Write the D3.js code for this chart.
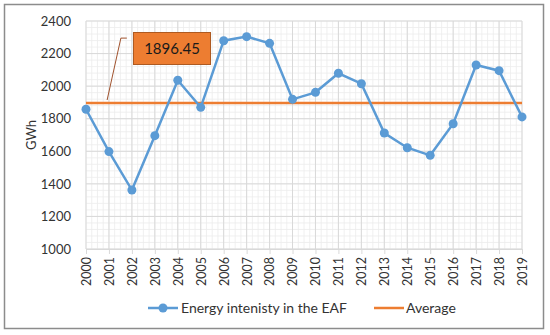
<!DOCTYPE html>
<html>
<head>
<meta charset="utf-8">
<script src="https://cdn.jsdelivr.net/npm/d3@7"></script>
<style>
  body { margin: 0; background: #fff; }
  text { font-family: Lato, "Open Sans", sans-serif; fill: #333; }
</style>
</head>
<body>
<div id="chart"></div>
<script>
const years = d3.range(2000, 2020);
const energy = [1858, 1598, 1362, 1696, 2036, 1870, 2279, 2304, 2263, 1919,
                1962, 2079, 2015, 1712, 1622, 1575, 1769, 2130, 2095, 1811];
const average = 1896.45;
const yTicks = [1000, 1200, 1400, 1600, 1800, 2000, 2200, 2400];
const seriesNames = ['Energy intenisty in the EAF', 'Average'];

const W = 550, H = 335;
const margin = {top: 21, right: 28, bottom: 86, left: 86};

const svg = d3.select('#chart').append('svg')
  .attr('width', W)
  .attr('height', H);

// outer frame
svg.append('rect')
  .attr('x', 4.5).attr('y', 4.5)
  .attr('width', 539).attr('height', 324)
  .attr('fill', '#fff')
  .attr('stroke', '#8c8c8c')
  .attr('stroke-width', 1.5);

const x = d3.scaleLinear()
  .domain([2000, 2019])
  .range([margin.left, W - margin.right]);

const y = d3.scaleLinear()
  .domain([1000, 2400])
  .range([H - margin.bottom, margin.top]);

const g = svg.append('g');

// minor grid
g.selectAll('.minor-x')
  .data(d3.range(2000, 2019.01, 0.25))
  .enter().append('line')
    .attr('x1', d => x(d)).attr('x2', d => x(d))
    .attr('y1', y(1000)).attr('y2', y(2400))
    .attr('stroke', '#ececec').attr('stroke-width', 0.8);

g.selectAll('.minor-y')
  .data(d3.range(1000, 2400.1, 40))
  .enter().append('line')
    .attr('x1', x(2000)).attr('x2', x(2019))
    .attr('y1', d => y(d)).attr('y2', d => y(d))
    .attr('stroke', '#ececec').attr('stroke-width', 0.8);

// major grid
g.selectAll('.major-x')
  .data(years)
  .enter().append('line')
    .attr('x1', d => x(d)).attr('x2', d => x(d))
    .attr('y1', y(1000)).attr('y2', y(2400))
    .attr('stroke', '#d9d9d9').attr('stroke-width', 1);

g.selectAll('.major-y')
  .data(yTicks)
  .enter().append('line')
    .attr('x1', x(2000)).attr('x2', x(2019))
    .attr('y1', d => y(d)).attr('y2', d => y(d))
    .attr('stroke', '#d9d9d9').attr('stroke-width', 1);

// y axis labels
const yAxis = g.append('g')
  .attr('transform', `translate(${x(2000) - 12},0)`)
  .call(d3.axisLeft(y).tickValues(yTicks).tickSize(0).tickFormat(d3.format('d')));
yAxis.select('.domain').remove();
yAxis.selectAll('text')
  .style('font-size', '13px')
  .attr('fill', '#333');

// x axis
const xAxis = g.append('g')
  .attr('transform', `translate(0,${y(1000)})`)
  .call(d3.axisBottom(x).tickValues(years).tickSize(5).tickFormat(d3.format('d')));
xAxis.select('.domain').attr('stroke', '#d9d9d9');
xAxis.selectAll('line').attr('stroke', '#d9d9d9');
xAxis.selectAll('text')
  .style('font-size', '12.5px')
  .attr('fill', '#333')
  .attr('transform', 'rotate(-90)')
  .attr('text-anchor', 'end')
  .attr('x', -8)
  .attr('y', 0)
  .attr('dy', '0.35em');

// axis title
svg.append('text')
  .attr('transform', `translate(36,${(y(1000) + y(2400)) / 2}) rotate(-90)`)
  .attr('text-anchor', 'middle')
  .style('font-size', '13px')
  .text('GWh');

// average line
g.append('line')
  .attr('x1', x(2000)).attr('x2', x(2019))
  .attr('y1', y(average)).attr('y2', y(average))
  .attr('stroke', '#ed7d31').attr('stroke-width', 2.5);

// series line
const line = d3.line()
  .x((d, i) => x(years[i]))
  .y(d => y(d));

g.append('path')
  .datum(energy)
  .attr('d', line)
  .attr('fill', 'none')
  .attr('stroke', '#5b9bd5')
  .attr('stroke-width', 2.5);

g.selectAll('.pt')
  .data(energy)
  .enter().append('circle')
    .attr('cx', (d, i) => x(years[i]))
    .attr('cy', d => y(d))
    .attr('r', 4.5)
    .attr('fill', '#5b9bd5');

// average callout
const callout = svg.append('g');
callout.append('polyline')
  .attr('points', [[x(2000.92), y(average) - 3], [x(2001.52), y(2295)], [x(2001.78), y(2295)]].join(' '))
  .attr('fill', 'none')
  .attr('stroke', '#a0522d')
  .attr('stroke-width', 1);
callout.append('rect')
  .attr('x', 133.5).attr('y', 32.5)
  .attr('width', 77).attr('height', 32)
  .attr('fill', '#ed7d31')
  .attr('stroke', '#ae5a21')
  .attr('stroke-width', 1);
callout.append('text')
  .attr('x', 172).attr('y', 49)
  .attr('dy', '0.35em')
  .attr('text-anchor', 'middle')
  .style('font-size', '15px')
  .style('fill', '#1a1a1a')
  .text(d3.format('.2f')(average));

// legend
const legend = svg.append('g').attr('transform', 'translate(0,308)');
legend.append('line')
  .attr('x1', 148).attr('x2', 178)
  .attr('stroke', '#5b9bd5').attr('stroke-width', 2.5);
legend.append('circle')
  .attr('cx', 163).attr('r', 4.5)
  .attr('fill', '#5b9bd5');
legend.append('text')
  .attr('x', 181).attr('dy', '0.35em')
  .style('font-size', '14px')
  .text(seriesNames[0]);
legend.append('line')
  .attr('x1', 374).attr('x2', 404)
  .attr('stroke', '#ed7d31').attr('stroke-width', 2.5);
legend.append('text')
  .attr('x', 406).attr('dy', '0.35em')
  .style('font-size', '14px')
  .text(seriesNames[1]);
</script>
</body>
</html>
